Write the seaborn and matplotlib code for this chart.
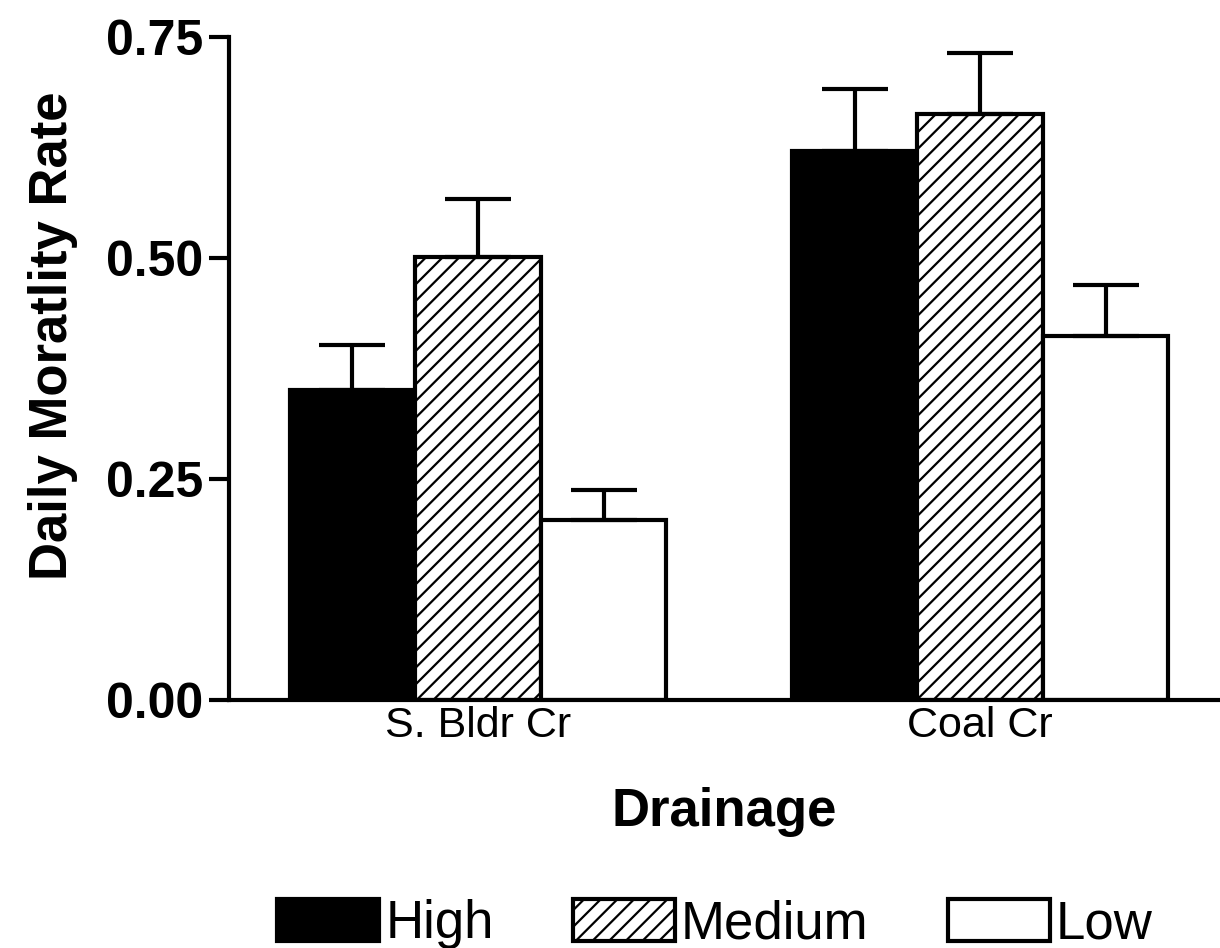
import matplotlib
matplotlib.use("Agg")
import matplotlib.pyplot as plt
import seaborn as sns
import pandas as pd

drainages = ["S. Bldr Cr", "Coal Cr"]
gradients = ["High", "Medium", "Low"]
rate_high = [0.351, 0.621]
rate_medium = [0.501, 0.663]
rate_low = [0.204, 0.412]
err_high = [0.051, 0.070]
err_medium = [0.066, 0.069]
err_low = [0.034, 0.057]
yticks = [0.00, 0.25, 0.50, 0.75]
ytick_labels = ["0.00", "0.25", "0.50", "0.75"]

rates = {"High": rate_high, "Medium": rate_medium, "Low": rate_low}
errs = {"High": err_high, "Medium": err_medium, "Low": err_low}
rows = []
for g in gradients:
    for d, r, e in zip(drainages, rates[g], errs[g]):
        rows.append({"Drainage": d, "Gradient": g, "rate": r, "err": e})
df = pd.DataFrame(rows)

sns.set_theme(style="ticks")
plt.rcParams["font.family"] = ["Liberation Sans", "DejaVu Sans"]
plt.rcParams["hatch.linewidth"] = 1.6
for k in ["text.color", "axes.labelcolor", "xtick.color", "ytick.color", "axes.edgecolor"]:
    plt.rcParams[k] = "black"

fig = plt.figure(figsize=(12.2, 9.48), dpi=100)
ax = fig.add_axes([0.1877, 0.2616, 0.8123, 0.6994])

sns.barplot(data=df, x="Drainage", y="rate", hue="Gradient", order=drainages,
            hue_order=gradients, palette=["black", "white", "white"],
            edgecolor="black", linewidth=3, errorbar=None, width=0.75,
            saturation=1, legend=False, ax=ax)

for cont, g in zip(ax.containers, gradients):
    sub = df[df["Gradient"] == g].set_index("Drainage").loc[drainages]
    xs = []
    for p in cont.patches:
        p.set_edgecolor("black")
        if g == "Medium":
            p.set_hatch("//")
        xs.append(p.get_x() + p.get_width() / 2)
    lo = [0] * len(xs)
    ax.errorbar(xs, sub["rate"].values, yerr=[lo, sub["err"].values], fmt="none",
                ecolor="black", elinewidth=3, capsize=24, capthick=3, zorder=1)

ax.set_xlim(-0.496, 1.478)
ax.set_ylim(0, 0.75)
ax.set_yticks(yticks)
ax.set_yticklabels(ytick_labels, fontsize=36, fontweight="bold")
ax.tick_params(axis="y", length=14.5, width=3, pad=4)
ax.tick_params(axis="x", length=0, labelsize=31, pad=4)
for s in ["top", "right"]:
    ax.spines[s].set_visible(False)
for s in ["left", "bottom"]:
    ax.spines[s].set_linewidth(3)
    ax.spines[s].set_color("black")

ax.set_xlabel("Drainage", fontsize=38, fontweight="bold", labelpad=30)
ax.set_ylabel("Daily Moratlity Rate", fontsize=38, fontweight="bold", labelpad=20)
ax.yaxis.label.set_y(0.55)

leg = fig.legend(handles=list(ax.containers), labels=gradients, loc="center",
                 bbox_to_anchor=(0.586, 0.025), ncol=3, frameon=False, fontsize=38,
                 handlelength=1.93, handleheight=0.85, handletextpad=0.12,
                 columnspacing=1.5)

fig.savefig("out.png", dpi=100)
